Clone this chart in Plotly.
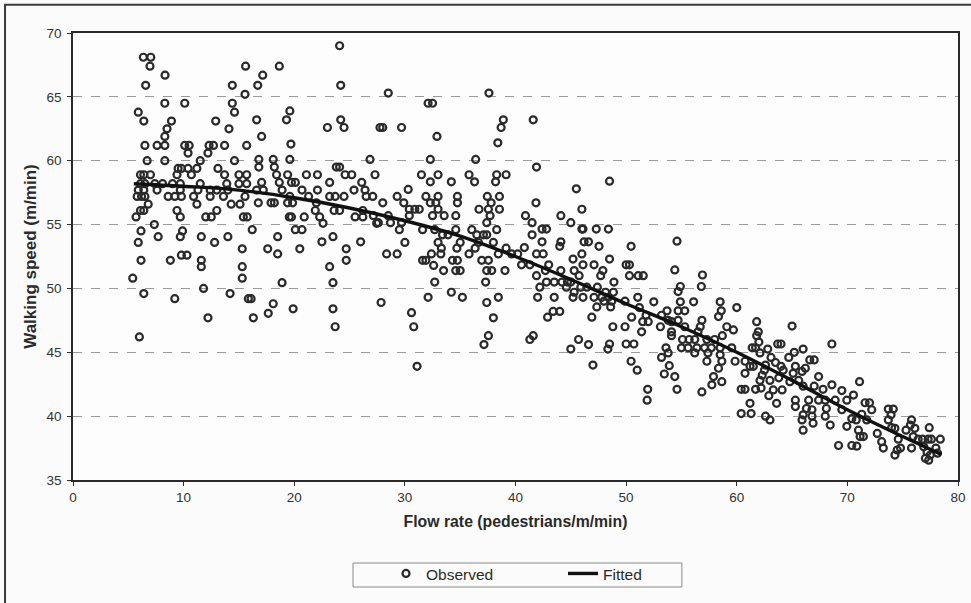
import plotly.graph_objects as go

# ---------------- data ----------------
obs_x_a = [6.36, 7.03, 6.96, 8.32, 6.57, 15.6, 14.4, 15.55, 8.3, 10.1, 14.4, 5.9, 6.4, 8.9, 14.6, 12.9, 8.5, 14.1, 8.3,
           6.5, 7.6, 8.3, 10.1, 10.5, 12.3, 12.7, 13.7, 15.7, 10.4, 12.2, 6.7, 8.3, 11.5, 14.6,
           9.5, 9.8, 10.4, 11.2, 13.1,
           6.1, 6.4, 7.0, 9.4, 10.7, 13.7, 15.0, 15.7,
           6.1, 6.5, 7.4, 8.1, 9.0, 9.7, 11.5, 13.9, 15.0, 15.7,
           5.9, 6.4, 7.6, 9.7, 11.3, 12.4, 13.0, 14.0,
           5.8, 6.2, 6.5, 8.6, 9.2, 9.8, 10.9, 12.4, 13.6, 15.55,
           6.8, 11.2, 14.3, 15.1,
           6.1, 6.4, 9.4, 13.0,
           5.7, 9.7, 12.0, 12.5, 15.4, 15.75,
           7.35, 6.15, 9.9,
           5.9, 7.7, 9.7, 11.6, 12.8, 14.0, 15.3,
           6.15, 8.8, 9.8, 10.3, 11.6, 11.6, 15.3, 5.4, 15.3, 11.8, 6.4, 9.2, 14.2, 15.85, 12.2, 6.0]
obs_y_a = [68.1, 68.1, 67.4, 66.7, 65.9, 67.4, 65.9, 65.2, 64.5, 64.5, 64.5, 63.8, 63.1, 63.1, 63.8, 63.1, 62.5, 62.5, 61.9,
           61.2, 61.2, 61.2, 61.2, 61.2, 61.2, 61.2, 61.2, 61.2, 60.6, 60.6, 60.0, 60.0, 60.0, 60.0,
           59.4, 59.4, 59.4, 59.4, 59.4,
           58.9, 58.9, 58.9, 58.9, 58.9, 58.9, 58.9, 58.9,
           58.2, 58.2, 58.2, 58.2, 58.2, 58.2, 58.2, 58.2, 58.2, 58.2,
           57.7, 57.7, 57.7, 57.7, 57.7, 57.7, 57.7, 57.7,
           57.2, 57.2, 57.2, 57.2, 57.2, 57.2, 57.2, 57.2, 57.2, 57.2,
           56.6, 56.6, 56.6, 56.6,
           56.1, 56.1, 56.1, 56.1,
           55.6, 55.6, 55.6, 55.6, 55.6, 55.6,
           55.0, 54.5, 54.5,
           53.6, 54.05, 54.05, 54.05, 53.6, 54.05, 53.1,
           52.2, 52.2, 52.6, 52.6, 52.2, 51.7, 51.7, 50.8, 50.8, 50.0, 49.6, 49.2, 49.6, 49.2, 47.7, 46.2]

obs_x_b = [24.1, 18.65, 17.15, 16.7, 24.2, 19.6, 19.3, 16.6, 24.2, 24.5, 23.0, 17.05, 19.7,
           16.8, 18.1, 19.6, 26.85,
           16.8, 18.2, 23.8, 24.1,
           18.4, 19.4, 21.1, 22.1, 24.6, 25.2, 27.3,
           17.05, 18.65, 19.75, 20.1, 23.2, 26.1,
           16.6, 17.2, 18.9, 20.7, 22.1, 25.4, 26.4,
           19.6, 21.3, 23.2, 23.7, 24.5, 26.5, 27.1,
           16.75, 17.9, 18.2, 19.4, 19.85, 22.0,
           21.9, 23.6, 24.1, 26.2,
           19.55, 19.75, 20.9, 22.3, 25.5, 26.2,
           22.6, 27.45,
           16.2, 20.1, 20.7,
           18.5, 23.5,
           17.6, 20.5, 24.7, 22.5, 26.0,
           18.5, 24.7, 23.2, 18.9, 23.5, 16.1, 18.1, 19.9, 23.5, 17.65, 16.3, 23.7]
obs_y_b = [69.0, 67.4, 66.7, 65.9, 65.9, 63.9, 63.2, 63.2, 63.2, 62.6, 62.6, 61.9, 61.3,
           60.1, 60.1, 60.1, 60.1,
           59.5, 59.5, 59.5, 59.5,
           58.9, 58.9, 58.9, 58.9, 58.9, 58.9, 58.9,
           58.3, 58.3, 58.3, 58.3, 58.3, 58.3,
           57.7, 57.7, 57.7, 57.7, 57.7, 57.7, 57.7,
           57.2, 57.2, 57.2, 57.2, 57.2, 57.2, 57.2,
           56.7, 56.7, 56.7, 56.7, 56.7, 56.7,
           56.1, 56.1, 56.1, 56.1,
           55.6, 55.6, 55.6, 55.6, 55.6, 55.6,
           55.1, 55.1,
           54.6, 54.6, 54.6,
           54.05, 54.05,
           53.1, 53.1, 53.1, 53.65, 53.65,
           52.7, 52.2, 51.7, 50.45, 50.45, 49.2, 48.8, 48.4, 48.4, 48.05, 47.7, 47.0]

obs_x_c = [28.5, 37.6, 32.1, 32.5, 27.75, 28.0, 29.7, 38.9, 38.7, 32.9, 38.4, 32.3, 36.4,
           31.5, 33.0, 35.8, 38.3, 39.15,
           32.3, 34.2, 36.3, 38.2, 30.3,
           29.3, 31.9, 33.0, 34.75, 37.45, 38.55,
           28.0, 29.9, 32.3, 32.8, 34.75, 37.8,
           30.4, 30.9, 31.3, 33.0, 36.7, 37.55, 38.55,
           27.15, 28.5, 30.4, 32.5, 33.55, 34.6, 37.7,
           27.6, 28.7, 29.7, 37.4,
           29.5, 31.6, 32.7, 34.6, 36.05, 38.3,
           33.4, 33.9, 36.5, 37.1, 37.4,
           33.0, 35.0, 36.65, 38.0, 30.0,
           33.3, 34.7, 36.35, 39.15,
           28.35, 29.3, 32.4, 33.25, 35.8, 38.45,
           31.6, 31.9, 34.3, 34.75, 36.95, 37.55,
           32.6,
           33.5, 34.6, 35.0, 37.4, 37.85, 39.05,
           32.7, 37.3,
           34.2, 35.2, 37.4, 38.45, 32.1, 27.85, 30.6, 30.8, 38.0, 37.55, 37.15, 31.1]
obs_y_c = [65.3, 65.3, 64.5, 64.5, 62.6, 62.6, 62.6, 63.2, 62.6, 61.9, 61.4, 60.1, 60.1,
           58.9, 58.9, 58.9, 58.9, 58.9,
           58.35, 58.35, 58.35, 58.35, 57.75,
           57.2, 57.2, 57.2, 57.2, 57.2, 57.2,
           56.7, 56.7, 56.7, 56.7, 56.7, 56.7,
           56.2, 56.2, 56.2, 56.2, 56.2, 56.2, 56.2,
           55.7, 55.7, 55.7, 55.7, 55.7, 55.7, 55.7,
           55.15, 55.15, 55.15, 55.15,
           54.6, 54.6, 54.6, 54.6, 54.6, 54.6,
           54.2, 54.2, 54.2, 54.2, 54.2,
           53.6, 53.6, 53.6, 53.6, 53.6,
           53.15, 53.15, 53.15, 53.15,
           52.7, 52.7, 52.7, 52.7, 52.7, 52.7,
           52.2, 52.2, 52.2, 52.2, 52.2, 52.2,
           51.8,
           51.4, 51.4, 51.4, 51.4, 51.4, 51.4,
           50.5, 50.5,
           49.7, 49.3, 48.9, 49.3, 49.3, 48.9, 48.1, 47.0, 47.7, 46.3, 45.6, 43.9]

obs_x_d = [41.6, 41.9, 48.5, 45.5, 41.85, 46.0, 40.9, 44.1, 41.5, 45.0,
           42.4, 42.8, 46.0, 46.1, 47.3, 48.4,
           41.5, 42.4, 44.1, 46.2, 46.6,
           44.0, 47.55, 50.45, 40.8,
           39.65, 40.2, 41.9, 42.5, 46.0,
           45.2, 48.5,
           40.55, 41.3, 43.0, 46.1, 47.1, 50.0, 50.3,
           42.7, 44.1, 45.3, 47.9,
           41.9, 45.75, 47.7, 50.3, 51.1,
           42.8, 43.5, 44.2, 44.7, 45.0, 48.9,
           42.2, 44.6, 45.9, 46.45, 47.4,
           45.3, 48.15, 48.85,
           42.0, 43.5, 45.2, 46.1, 47.1, 47.8, 48.4, 51.05,
           48.0, 48.7, 49.9,
           47.35, 48.6, 43.4, 44.0,
           42.9, 46.9, 50.5,
           48.8, 49.9,
           41.6, 41.3, 45.7, 46.6, 48.5, 50.0, 50.7, 45.0, 48.35, 47.0, 50.45, 51.0]
obs_y_d = [63.2, 59.5, 58.4, 57.8, 56.7, 56.2, 55.7, 55.7, 55.15, 55.15,
           54.65, 54.65, 54.65, 54.65, 54.65, 54.65,
           54.2, 53.65, 53.65, 53.65, 53.65,
           53.3, 53.3, 53.3, 53.2,
           52.7, 52.7, 52.7, 52.7, 52.7,
           52.3, 52.3,
           51.85, 51.85, 51.85, 51.85, 51.85, 51.85, 51.85,
           51.4, 51.4, 51.4, 51.4,
           51.0, 51.0, 51.0, 51.0, 51.0,
           50.5, 50.5, 50.5, 50.5, 50.5, 50.5,
           50.1, 50.1, 50.1, 50.1, 50.1,
           49.7, 49.7, 49.7,
           49.3, 49.3, 49.3, 49.3, 49.3, 49.3, 49.3, 49.3,
           49.0, 49.0, 49.0,
           48.55, 48.55, 48.2, 48.2,
           47.75, 47.75, 47.75,
           47.0, 47.0,
           46.3, 46.0, 46.0, 45.6, 45.65, 45.65, 45.65, 45.25, 45.25, 44.0, 44.3, 43.6]

obs_x_e = [54.6, 51.55, 54.4, 56.9, 54.9, 54.7, 56.8,
           52.5, 54.9, 56.1, 58.5,
           60.0, 58.6, 58.35, 51.2,
           53.7, 54.7, 55.3,
           51.8, 53.2, 53.8, 54.7, 56.85,
           51.5, 52.0, 54.1, 61.8,
           53.1, 55.3, 56.7, 59.1, 59.7,
           51.4, 54.1, 56.5, 61.95,
           54.1, 58.7, 61.8,
           55.1, 55.7, 56.2, 58.0, 57.3,
           55.0, 55.6, 56.4, 57.1, 57.7, 58.5, 59.55,
           61.4, 61.7, 62.1,
           53.6, 53.8, 56.2, 57.4, 58.5, 53.2,
           57.3, 58.65, 59.85, 60.75, 61.2, 61.5,
           53.9, 58.35,
           53.45, 54.4, 57.9, 58.65, 60.75,
           57.75, 56.85, 54.6, 51.95, 51.9,
           60.4, 60.75, 61.2, 61.7,
           60.4, 61.3]
obs_y_e = [53.7, 51.0, 51.45, 51.05, 50.15, 49.75, 50.15,
           48.95, 48.95, 48.95, 48.95,
           48.5, 48.25, 47.8, 48.5,
           48.25, 48.25, 48.25,
           47.9, 47.9, 47.5, 47.5, 47.5,
           47.4, 47.4, 47.4, 47.4,
           47.0, 47.0, 47.0, 47.0, 46.75,
           46.6, 46.6, 46.6, 46.6,
           46.3, 46.3, 46.3,
           46.0, 46.0, 46.0, 46.0, 46.0,
           45.35, 45.35, 45.35, 45.35, 45.35, 45.35, 45.35,
           45.35, 45.35, 44.95,
           45.35, 44.95, 44.95, 44.95, 44.8, 44.6,
           44.3, 44.3, 44.3, 44.3, 43.9, 43.9,
           43.95, 43.75,
           43.3, 43.1, 43.1, 42.7, 43.35,
           42.45, 41.9, 42.1, 42.1, 41.25,
           42.1, 42.1, 41.0, 42.1,
           40.2, 40.2]

obs_x_f = [65.0, 63.7, 64.0, 68.6, 62.8, 66.0,
           63.1, 64.7, 65.2, 66.6, 67.0,
           62.6, 64.0, 65.3, 66.2,
           64.2, 65.1, 65.9, 67.4,
           62.3, 63.0, 62.1,
           64.8, 65.6, 66.0, 67.0, 67.8, 68.6, 69.5, 70.55,
           62.2, 63.3, 64.1,
           65.3, 66.5, 67.4, 68.0, 68.9, 69.95,
           65.3, 66.3, 66.8, 68.1, 69.5,
           62.6, 63.0,
           66.0, 66.8, 68.0, 66.9,
           65.9, 68.45, 69.95, 70.4,
           66.0, 69.2, 70.4,
           62.0, 63.5, 62.5, 63.8, 62.9, 63.6]
obs_y_f = [47.05, 45.65, 45.65, 45.65, 45.25, 45.25,
           44.6, 44.6, 45.0, 44.4, 44.4,
           44.0, 43.9, 43.9, 43.75,
           43.6, 43.35, 43.5, 43.1,
           43.2, 42.8, 42.8,
           42.7, 42.8, 42.35, 42.35, 42.1, 42.45, 42.0, 41.65,
           42.2, 42.05, 42.05,
           41.25, 41.25, 41.25, 41.25, 41.25, 41.25,
           40.75, 40.6, 40.5, 40.6, 40.5,
           40.0, 39.7,
           40.1, 40.0, 40.0, 39.45,
           39.7, 39.3, 39.2, 39.8,
           38.9, 37.7, 37.7,
           45.8, 44.2, 43.6, 43.0, 41.6, 41.0]

obs_x_g = [71.1, 71.6, 72.0, 72.2, 73.7, 74.15, 73.95,
           71.3, 70.8, 71.75,
           75.8, 75.7, 76.1, 77.4,
           73.7, 74.0, 74.3,
           71.0, 71.15, 71.45, 72.7, 75.3,
           73.1, 73.25, 74.6, 75.95, 76.4, 76.8, 77.3, 77.6, 78.4,
           70.85,
           74.8, 74.5, 75.8,
           76.9, 77.2, 78.0, 77.5, 77.05, 77.35, 78.15,
           74.3]
obs_y_g = [42.7, 41.05, 41.05, 40.5, 40.55, 40.55, 40.1,
           40.15, 39.7, 39.7,
           39.7, 39.3, 39.05, 39.1,
           39.7, 39.1, 39.05,
           38.9, 38.4, 38.4, 38.65, 38.9,
           38.0, 37.5, 38.2, 38.4, 38.2, 38.2, 38.2, 38.2, 38.2,
           37.65,
           37.5, 37.35, 37.5,
           37.6, 37.2, 37.5, 36.95, 36.7, 36.55, 37.1,
           36.95]

fit_x = [5.5, 10, 15, 20, 25, 30, 35, 40, 45, 50, 55, 60, 65, 70, 75, 78.5]
fit_y = [58.2, 58.0, 57.7, 57.1, 56.3, 55.3, 54.1, 52.5, 50.7, 48.8, 47.0, 45.0, 42.8, 40.5, 38.4, 37.0]

x_ticks = [0, 10, 20, 30, 40, 50, 60, 70, 80]
y_ticks = [35, 40, 45, 50, 55, 60, 65, 70]

obs_x = obs_x_a + obs_x_b + obs_x_c + obs_x_d + obs_x_e + obs_x_f + obs_x_g
obs_y = obs_y_a + obs_y_b + obs_y_c + obs_y_d + obs_y_e + obs_y_f + obs_y_g

FONT = "Liberation Sans, Arial, sans-serif"
INK = "#2a2a2a"

fig = go.Figure()
fig.add_trace(go.Scatter(
    x=obs_x, y=obs_y, mode="markers", name="Observed",
    marker=dict(symbol="circle-open", size=7, color=INK, line=dict(width=2.2, color=INK)),
))
fig.add_trace(go.Scatter(
    x=fit_x, y=fit_y, mode="lines", name="Fitted",
    line=dict(color="#111111", width=3.4, shape="spline"),
))

fig.update_layout(
    width=971, height=603,
    margin=dict(l=73, r=13, t=33, b=123),
    paper_bgcolor="#fbfbfc",
    plot_bgcolor="#fdfdfd",
    font=dict(family=FONT, size=13, color=INK),
    showlegend=True,
    legend=dict(
        orientation="h", x=0.3537, xanchor="left", y=-0.172, yanchor="top",
        bgcolor="rgba(0,0,0,0)", borderwidth=0,
        font=dict(family=FONT, size=15.5, color=INK),
        entrywidth=132, itemwidth=30,
    ),
    xaxis=dict(
        range=[0, 80], tickvals=x_ticks, ticks="outside", ticklen=4, tickcolor=INK,
        showline=True, linecolor=INK, linewidth=1.5, mirror=True,
        showgrid=False, zeroline=False, automargin=False,
        tickfont=dict(family=FONT, size=13.5, color="#333333"),
        title=dict(text="<b>Flow rate (pedestrians/m/min)</b>", standoff=12,
                   font=dict(family=FONT, size=15.8, color=INK)),
    ),
    yaxis=dict(
        range=[35, 70], tickvals=y_ticks, ticks="outside", ticklen=4, tickcolor=INK,
        showline=True, linecolor=INK, linewidth=1.5, mirror=True,
        showgrid=True, gridcolor="#9a9a9a", griddash="dash", gridwidth=1,
        zeroline=False, automargin=False, ticklabelstandoff=3,
        tickfont=dict(family=FONT, size=13.5, color="#333333"),
        title=dict(text="<b>Walking speed (m/min)</b>", standoff=6,
                   font=dict(family=FONT, size=17, color=INK)),
    ),
    shapes=[
        dict(type="rect", xref="paper", yref="paper",
             x0=-0.0768, x1=1.03, y0=-0.30, y1=1.063,
             line=dict(color="#3a3a3a", width=2), fillcolor="rgba(0,0,0,0)", layer="below"),
        dict(type="rect", xref="paper", yref="paper",
             x0=0.3164, x1=0.688, y0=-0.2394, y1=-0.1857,
             line=dict(color="#8a8a8a", width=1), fillcolor="rgba(0,0,0,0)", layer="below"),
    ],
)

fig.write_html(
    "out.html",
    config={"displayModeBar": False},
    post_script="document.body.style.margin='0px';document.body.style.overflow='hidden';",
)
